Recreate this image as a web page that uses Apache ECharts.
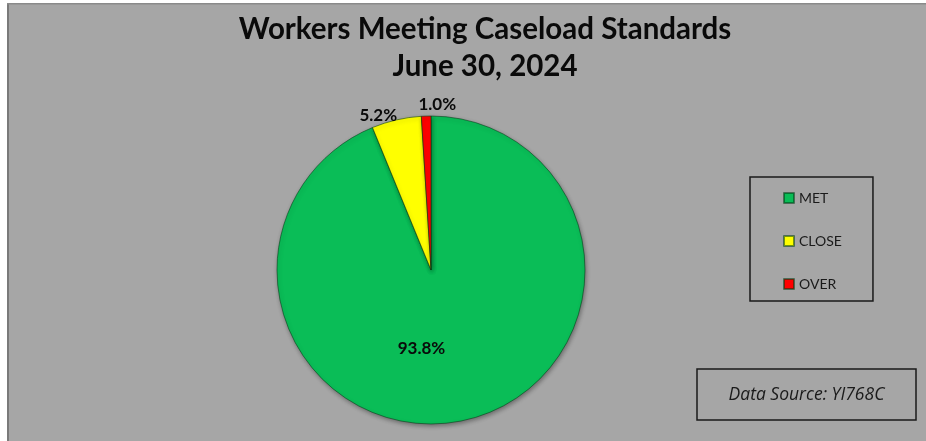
<!DOCTYPE html>
<html><head><meta charset="utf-8">
<script src="https://cdn.jsdelivr.net/npm/echarts@6/dist/echarts.min.js"></script>
<style>html,body{margin:0;padding:0;background:#fff}#c{width:926px;height:441px}</style>
</head><body><div id="c"></div>
<script>
const categories = ['MET', 'CLOSE', 'OVER'];
const values = [93.8, 5.2, 1.0];
const colors = ['#0ABD57', '#FFFF00', '#FF0000'];
const titleLines = ['Workers Meeting Caseload Standards', 'June 30, 2024'];
const sourceText = 'Data Source: YI768C';

const chart = echarts.init(document.getElementById('c'));
const data = categories.map((name, i) => ({
  name, value: values[i],
  itemStyle: { color: colors[i] },
  label: i === 0 ? { position: 'inside' } : { position: 'outside' },
  labelLine: { show: false }
}));
const labelShift = [[-25, 0], [41, -18], [32, -10]];
chart.setOption({
  backgroundColor: '#ffffff',
  animation: false,
  graphic: [{
    type: 'rect', z: -10, silent: true,
    shape: { x: 7, y: 3, width: 919, height: 438 },
    style: { fill: '#A6A6A6' }
  }, {
    type: 'rect', z: -9, silent: true,
    shape: { x: 7, y: 3, width: 2, height: 438 },
    style: { fill: '#7a7a7a' }
  }, {
    type: 'rect', z: -9, silent: true,
    shape: { x: 7, y: 3, width: 919, height: 1.5 },
    style: { fill: '#8a8a8a' }
  }, {
    type: 'rect', silent: true,
    shape: { x: 697, y: 369, width: 219, height: 51 },
    style: { fill: 'none', stroke: '#1a1a1a', lineWidth: 1.5 }
  }, {
    type: 'text', silent: true,
    x: 806.5, y: 395,
    style: { text: sourceText, align: 'center', verticalAlign: 'middle', fill: '#1a1a1a',
      font: 'italic 17.5px "Open Sans"' }
  }],
  title: [{
    text: titleLines.join('\n'),
    left: 480, top: 6, textAlign: 'center',
    textStyle: { fontFamily: 'Lato', fontWeight: 'bold', fontSize: 29.5, lineHeight: 37, color: '#0a0a0a' }
  }],
  legend: {
    orient: 'vertical', left: 750, top: 177,
    padding: [14, 31, 10, 33],
    itemWidth: 10, itemHeight: 10, itemGap: 29,
    icon: 'rect',
    borderColor: '#1a1a1a', borderWidth: 1.5,
    data: categories,
    textStyle: { fontFamily: 'Lato', fontSize: 14, color: '#1a1a1a' }
  },
  series: [{
    type: 'pie',
    center: [431, 270], radius: 154,
    startAngle: 90, clockwise: true,
    data,
    itemStyle: { borderColor: 'rgba(0,60,20,0.55)', borderWidth: 1, shadowBlur: 4, shadowColor: 'rgba(0,0,0,0.35)', shadowOffsetX: 1, shadowOffsetY: 2 },
    label: {
      show: true, formatter: p => p.value.toFixed(1) + '%',
      fontFamily: 'Lato', fontWeight: 'bold', fontSize: 17, color: '#0a0a0a',
      distanceToLabelLine: 2
    },
    labelLine: { show: false, length: 2, length2: 0 },
    labelLayout: p => ({ dx: labelShift[p.dataIndex][0], dy: labelShift[p.dataIndex][1] }),
    emphasis: { disabled: true }
  }]
});
</script></body></html>
